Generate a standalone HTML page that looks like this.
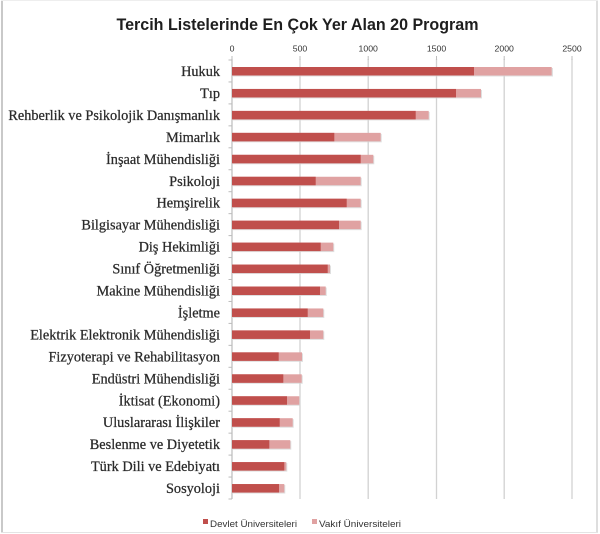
<!DOCTYPE html>
<html><head><meta charset="utf-8"><style>
html,body{margin:0;padding:0;background:#fff;}
svg{display:block;}
</style></head><body>
<svg width="600" height="534" viewBox="0 0 600 534" xmlns="http://www.w3.org/2000/svg">
<rect x="0" y="0" width="600" height="534" fill="#fff"/>
<!-- outer border -->
<line x1="2" y1="0" x2="2" y2="532" stroke="#c9c9c9" stroke-width="2"/>
<line x1="597" y1="0" x2="597" y2="533" stroke="#d4d4d4" stroke-width="1.5"/>
<line x1="1" y1="0.5" x2="598" y2="0.5" stroke="#eeeeee" stroke-width="1"/>
<line x1="1" y1="532.5" x2="598" y2="532.5" stroke="#e4e4e4" stroke-width="1"/>

<!-- title -->
<text x="297.5" y="30" text-anchor="middle" font-family="Liberation Sans, sans-serif" font-weight="bold" font-size="17" fill="#1e1e1e" textLength="362" lengthAdjust="spacingAndGlyphs">Tercih Listelerinde En Çok Yer Alan 20 Program</text>

<!-- gridlines -->
<g stroke="#d2d2d2" stroke-width="1.3">
<line x1="300" y1="59" x2="300" y2="499"/>
<line x1="368.2" y1="59" x2="368.2" y2="499"/>
<line x1="436.5" y1="59" x2="436.5" y2="499"/>
<line x1="504.2" y1="59" x2="504.2" y2="499"/>
<line x1="572" y1="59" x2="572" y2="499"/>
</g>
<!-- top tick marks -->
<g stroke="#bdbdbd" stroke-width="1">
<line x1="232" y1="56" x2="232" y2="60"/>
<line x1="300" y1="56" x2="300" y2="60"/>
<line x1="368.2" y1="56" x2="368.2" y2="60"/>
<line x1="436.5" y1="56" x2="436.5" y2="60"/>
<line x1="504.2" y1="56" x2="504.2" y2="60"/>
<line x1="572" y1="56" x2="572" y2="60"/>
</g>
<!-- axis line -->
<line x1="232" y1="59" x2="232" y2="499" stroke="#bcbcbc" stroke-width="1.2"/>
<!-- category ticks -->
<g stroke="#bcbcbc" stroke-width="1">
<line x1="228.5" y1="60" x2="232" y2="60"/>
<line x1="228.5" y1="81.95" x2="232" y2="81.95"/>
<line x1="228.5" y1="103.9" x2="232" y2="103.9"/>
<line x1="228.5" y1="125.85" x2="232" y2="125.85"/>
<line x1="228.5" y1="147.8" x2="232" y2="147.8"/>
<line x1="228.5" y1="169.75" x2="232" y2="169.75"/>
<line x1="228.5" y1="191.7" x2="232" y2="191.7"/>
<line x1="228.5" y1="213.65" x2="232" y2="213.65"/>
<line x1="228.5" y1="235.6" x2="232" y2="235.6"/>
<line x1="228.5" y1="257.55" x2="232" y2="257.55"/>
<line x1="228.5" y1="279.5" x2="232" y2="279.5"/>
<line x1="228.5" y1="301.45" x2="232" y2="301.45"/>
<line x1="228.5" y1="323.4" x2="232" y2="323.4"/>
<line x1="228.5" y1="345.35" x2="232" y2="345.35"/>
<line x1="228.5" y1="367.3" x2="232" y2="367.3"/>
<line x1="228.5" y1="389.25" x2="232" y2="389.25"/>
<line x1="228.5" y1="411.2" x2="232" y2="411.2"/>
<line x1="228.5" y1="433.15" x2="232" y2="433.15"/>
<line x1="228.5" y1="455.1" x2="232" y2="455.1"/>
<line x1="228.5" y1="477.05" x2="232" y2="477.05"/>
<line x1="228.5" y1="499" x2="232" y2="499"/>
</g>

<!-- axis tick labels -->
<g font-family="Liberation Sans, sans-serif" font-size="8.7" fill="#333" text-anchor="middle">
<text x="232" y="51.5">0</text>
<text x="300" y="51.5">500</text>
<text x="368.2" y="51.5">1000</text>
<text x="436.5" y="51.5">1500</text>
<text x="504.2" y="51.5">2000</text>
<text x="572" y="51.5">2500</text>
</g>

<!-- category labels -->
<g font-family="Liberation Serif, serif" font-size="14.3" fill="#2a2a2a" stroke="#2a2a2a" stroke-width="0.25" text-anchor="end">
<text x="220" y="76">Hukuk</text>
<text x="220" y="97.95">Tıp</text>
<text x="220" y="119.9">Rehberlik ve Psikolojik Danışmanlık</text>
<text x="220" y="141.85">Mimarlık</text>
<text x="220" y="163.8">İnşaat Mühendisliği</text>
<text x="220" y="185.75">Psikoloji</text>
<text x="220" y="207.7">Hemşirelik</text>
<text x="220" y="229.65">Bilgisayar Mühendisliği</text>
<text x="220" y="251.6">Diş Hekimliği</text>
<text x="220" y="273.55">Sınıf Öğretmenliği</text>
<text x="220" y="295.5">Makine Mühendisliği</text>
<text x="220" y="317.45">İşletme</text>
<text x="220" y="339.4">Elektrik Elektronik Mühendisliği</text>
<text x="220" y="361.35">Fizyoterapi ve Rehabilitasyon</text>
<text x="220" y="383.3">Endüstri Mühendisliği</text>
<text x="220" y="405.25">İktisat (Ekonomi)</text>
<text x="220" y="427.2">Uluslararası İlişkiler</text>
<text x="220" y="449.15">Beslenme ve Diyetetik</text>
<text x="220" y="471.1">Türk Dili ve Edebiyatı</text>
<text x="220" y="493.05">Sosyoloji</text>
</g>

<!-- bar shadows -->
<g fill="#d8d8d8" opacity="0.8">
<rect x="233" y="68" width="320" height="8.5"/>
<rect x="233" y="89.95" width="249" height="8.5"/>
<rect x="233" y="111.9" width="196.7" height="8.5"/>
<rect x="233" y="133.85" width="148.7" height="8.5"/>
<rect x="233" y="155.8" width="141.3" height="8.5"/>
<rect x="233" y="177.75" width="128.7" height="8.5"/>
<rect x="233" y="199.7" width="128.7" height="8.5"/>
<rect x="233" y="221.65" width="128.7" height="8.5"/>
<rect x="233" y="243.6" width="101.3" height="8.5"/>
<rect x="233" y="265.55" width="98" height="8.5"/>
<rect x="233" y="287.5" width="93.7" height="8.5"/>
<rect x="233" y="309.45" width="91.3" height="8.5"/>
<rect x="233" y="331.4" width="91.3" height="8.5"/>
<rect x="233" y="353.35" width="70" height="8.5"/>
<rect x="233" y="375.3" width="69.7" height="8.5"/>
<rect x="233" y="397.25" width="67.3" height="8.5"/>
<rect x="233" y="419.2" width="60.7" height="8.5"/>
<rect x="233" y="441.15" width="58.3" height="8.5"/>
<rect x="233" y="463.1" width="54.3" height="8.5"/>
<rect x="233" y="485.05" width="52.3" height="8.5"/>
</g>

<!-- vakif bars (full total length) -->
<g fill="#e0a2a2">
<rect x="232" y="67" width="319.7" height="8.5"/>
<rect x="232" y="88.95" width="249" height="8.5"/>
<rect x="232" y="110.9" width="196.7" height="8.5"/>
<rect x="232" y="132.85" width="148.7" height="8.5"/>
<rect x="232" y="154.8" width="141.3" height="8.5"/>
<rect x="232" y="176.75" width="128.7" height="8.5"/>
<rect x="232" y="198.7" width="128.7" height="8.5"/>
<rect x="232" y="220.65" width="128.7" height="8.5"/>
<rect x="232" y="242.6" width="101.3" height="8.5"/>
<rect x="232" y="264.55" width="98" height="8.5"/>
<rect x="232" y="286.5" width="93.7" height="8.5"/>
<rect x="232" y="308.45" width="91.3" height="8.5"/>
<rect x="232" y="330.4" width="91.3" height="8.5"/>
<rect x="232" y="352.35" width="70" height="8.5"/>
<rect x="232" y="374.3" width="69.7" height="8.5"/>
<rect x="232" y="396.25" width="67.3" height="8.5"/>
<rect x="232" y="418.2" width="60.7" height="8.5"/>
<rect x="232" y="440.15" width="58.3" height="8.5"/>
<rect x="232" y="462.1" width="54.3" height="8.5"/>
<rect x="232" y="484.05" width="52.3" height="8.5"/>
</g>

<!-- devlet bars -->
<g fill="#c04f4c">
<rect x="232" y="67" width="242" height="8.5"/>
<rect x="232" y="88.95" width="224" height="8.5"/>
<rect x="232" y="110.9" width="183.7" height="8.5"/>
<rect x="232" y="132.85" width="102.3" height="8.5"/>
<rect x="232" y="154.8" width="128.7" height="8.5"/>
<rect x="232" y="176.75" width="83.7" height="8.5"/>
<rect x="232" y="198.7" width="114.7" height="8.5"/>
<rect x="232" y="220.65" width="107" height="8.5"/>
<rect x="232" y="242.6" width="88.7" height="8.5"/>
<rect x="232" y="264.55" width="95.7" height="8.5"/>
<rect x="232" y="286.5" width="88" height="8.5"/>
<rect x="232" y="308.45" width="75.7" height="8.5"/>
<rect x="232" y="330.4" width="78" height="8.5"/>
<rect x="232" y="352.35" width="46.7" height="8.5"/>
<rect x="232" y="374.3" width="51.3" height="8.5"/>
<rect x="232" y="396.25" width="55" height="8.5"/>
<rect x="232" y="418.2" width="47.7" height="8.5"/>
<rect x="232" y="440.15" width="37.3" height="8.5"/>
<rect x="232" y="462.1" width="52.3" height="8.5"/>
<rect x="232" y="484.05" width="47" height="8.5"/>
</g>

<!-- legend -->
<rect x="203" y="519" width="5" height="5" fill="#c04f4c"/>
<text x="210" y="527" font-family="Liberation Sans, sans-serif" font-size="9.3" fill="#333" textLength="87" lengthAdjust="spacingAndGlyphs">Devlet Üniversiteleri</text>
<rect x="312" y="519" width="5" height="5" fill="#e0a2a2"/>
<text x="319" y="527" font-family="Liberation Sans, sans-serif" font-size="9.3" fill="#333" textLength="82" lengthAdjust="spacingAndGlyphs">Vakıf Üniversiteleri</text>
</svg>
</body></html>
